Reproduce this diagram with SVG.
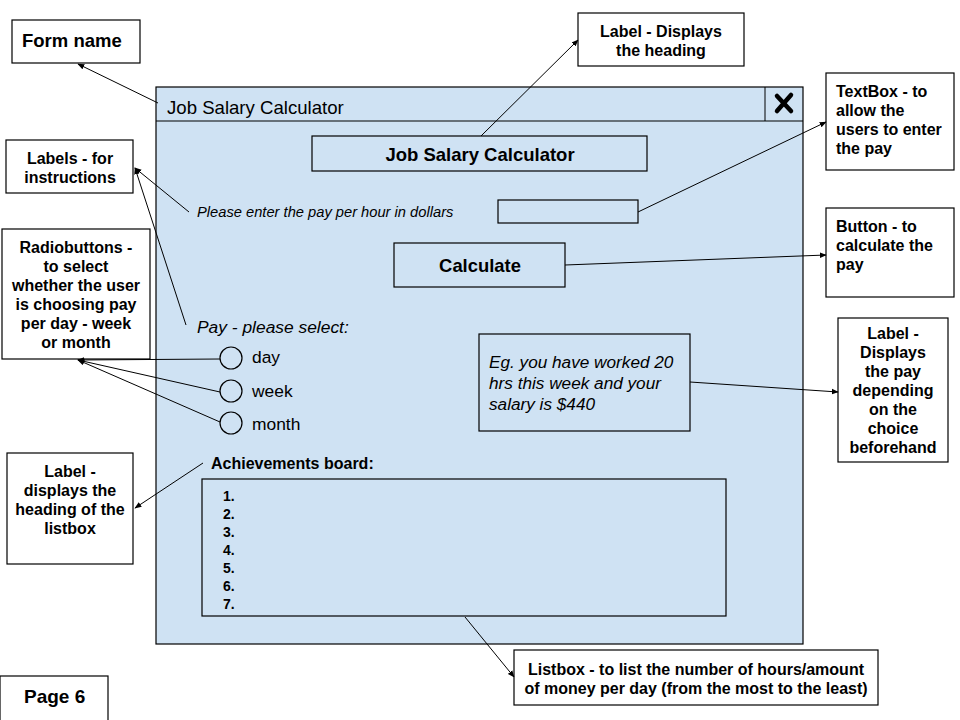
<svg xmlns="http://www.w3.org/2000/svg" width="960" height="720" viewBox="0 0 960 720">
<defs>
<style>
.box{fill:#fff;stroke:#000;stroke-width:1.2}
.win{fill:#cfe2f3;stroke:#000;stroke-width:1.2}
.t{font-family:"Liberation Sans",Arial,sans-serif;fill:#000}
.b{font-weight:bold;font-size:16px}
.c{text-anchor:middle}
.i{font-style:italic}
.con line{stroke:#000;stroke-width:1}
</style>
<marker id="ah" viewBox="0 0 10 10" refX="9" refY="5" markerWidth="7" markerHeight="7" orient="auto" markerUnits="userSpaceOnUse">
<path d="M0,1 L10,5 L0,9 z" fill="#000"/>
</marker>
</defs>
<rect width="960" height="720" fill="#fff"/>

<g id="window">
<rect class="win" x="156" y="87" width="647" height="557"/>
<line x1="156" y1="121" x2="803" y2="121" stroke="#000" stroke-width="1.2"/>
<line x1="765" y1="87" x2="765" y2="121" stroke="#000" stroke-width="1"/>
<path d="M777,96 L791,111 M791,95 L777,111" stroke="#000" stroke-width="4.5" stroke-linecap="round"/>
<text class="t" x="167" y="114" font-size="18.6">Job Salary Calculator</text>
</g>

<g id="heading">
<rect class="win" x="312" y="136" width="335" height="35"/>
<text class="t c" x="480" y="161" font-size="18.5" font-weight="bold">Job Salary Calculator</text>
</g>

<g id="instruction">
<text class="t i" x="197" y="217" font-size="14.7">Please enter the pay per hour in dollars</text>
</g>

<g id="textbox">
<rect class="win" x="498" y="200" width="140" height="23"/>
</g>

<g id="calculate">
<rect class="win" x="394" y="243" width="171" height="44"/>
<text class="t c" x="480" y="272" font-size="18.4" font-weight="bold">Calculate</text>
</g>

<g id="payselect">
<text class="t i" x="197" y="333" font-size="17.4">Pay - please select:</text>
</g>

<g id="radios">
<circle cx="231" cy="358" r="11" fill="none" stroke="#000" stroke-width="1.2"/>
<circle cx="231" cy="391" r="11" fill="none" stroke="#000" stroke-width="1.2"/>
<circle cx="231" cy="423" r="11" fill="none" stroke="#000" stroke-width="1.2"/>
<text class="t" x="252" y="363" font-size="17.4">day</text>
<text class="t" x="252" y="397" font-size="17.4">week</text>
<text class="t" x="252" y="430" font-size="17.4">month</text>
</g>

<g id="result">
<rect class="win" x="479" y="334" width="211" height="97"/>
<text class="t i" x="489" font-size="17.2"><tspan x="489" y="368">Eg. you have worked 20</tspan><tspan x="489" y="389">hrs this week and your</tspan><tspan x="489" y="410">salary is $440</tspan></text>
</g>

<g id="achlabel">
<text class="t" x="211" y="469" font-size="16" font-weight="bold">Achievements board:</text>
</g>

<g id="listbox">
<rect class="win" x="202" y="479" width="524" height="137"/>
<text class="t" font-size="14" font-weight="bold"><tspan x="223" y="501">1.</tspan><tspan x="223" y="519">2.</tspan><tspan x="223" y="537">3.</tspan><tspan x="223" y="555">4.</tspan><tspan x="223" y="573">5.</tspan><tspan x="223" y="591">6.</tspan><tspan x="223" y="609">7.</tspan></text>
</g>

<g id="n-formname">
<rect class="box" x="12" y="20" width="128" height="43"/>
<text class="t" x="22" y="47" font-size="18.5" font-weight="bold">Form name</text>
</g>

<g id="n-labelheading">
<rect class="box" x="578" y="13" width="166" height="53"/>
<text class="t b c"><tspan x="661" y="37">Label - Displays</tspan><tspan x="661" y="56">the heading</tspan></text>
</g>

<g id="n-textbox">
<rect class="box" x="826" y="73" width="128" height="97"/>
<text class="t b"><tspan x="836" y="97">TextBox - to</tspan><tspan x="836" y="116">allow the</tspan><tspan x="836" y="135">users to enter</tspan><tspan x="836" y="154">the pay</tspan></text>
</g>

<g id="n-button">
<rect class="box" x="826" y="208" width="128" height="89"/>
<text class="t b"><tspan x="836" y="232">Button - to</tspan><tspan x="836" y="251">calculate the</tspan><tspan x="836" y="270">pay</tspan></text>
</g>

<g id="n-labelpay">
<rect class="box" x="838" y="318" width="110" height="144"/>
<text class="t b c"><tspan x="893" y="339">Label -</tspan><tspan x="893" y="358">Displays</tspan><tspan x="893" y="377">the pay</tspan><tspan x="893" y="396">depending</tspan><tspan x="893" y="415">on the</tspan><tspan x="893" y="434">choice</tspan><tspan x="893" y="453">beforehand</tspan></text>
</g>

<g id="n-labels">
<rect class="box" x="6" y="140" width="127" height="53"/>
<text class="t b c"><tspan x="70" y="164">Labels - for</tspan><tspan x="70" y="183">instructions</tspan></text>
</g>

<g id="n-radio">
<rect class="box" x="2" y="229" width="148" height="130"/>
<text class="t b c"><tspan x="76" y="253">Radiobuttons -</tspan><tspan x="76" y="272">to select</tspan><tspan x="76" y="291">whether the user</tspan><tspan x="76" y="310">is choosing pay</tspan><tspan x="76" y="329">per day - week</tspan><tspan x="76" y="348">or month</tspan></text>
</g>

<g id="n-labellist">
<rect class="box" x="7" y="453" width="126" height="111"/>
<text class="t b c"><tspan x="70" y="477">Label -</tspan><tspan x="70" y="496">displays the</tspan><tspan x="70" y="515">heading of the</tspan><tspan x="70" y="534">listbox</tspan></text>
</g>

<g id="n-listbox">
<rect class="box" x="514" y="650" width="364" height="55"/>
<text class="t b c"><tspan x="696" y="675">Listbox - to list the number of hours/amount</tspan><tspan x="696" y="694">of money per day (from the most to the least)</tspan></text>
</g>

<g id="n-page">
<rect class="box" x="0" y="676" width="108" height="48"/>
<text class="t" x="24" y="703" font-size="19" font-weight="bold">Page 6</text>
</g>

<g id="connectors" class="con">
<line x1="158" y1="103" x2="78" y2="64" marker-end="url(#ah)"/>
<line x1="481" y1="136" x2="578" y2="40" marker-end="url(#ah)"/>
<line x1="638" y1="212" x2="826" y2="122" marker-end="url(#ah)"/>
<line x1="565" y1="265" x2="826" y2="255" marker-end="url(#ah)"/>
<line x1="690" y1="382" x2="838" y2="392" marker-end="url(#ah)"/>
<line x1="189" y1="212" x2="135" y2="168" marker-end="url(#ah)"/>
<line x1="186" y1="325" x2="135" y2="168" marker-end="url(#ah)"/>
<line x1="220" y1="359" x2="78" y2="360" marker-end="url(#ah)"/>
<line x1="220" y1="392" x2="78" y2="360" marker-end="url(#ah)"/>
<line x1="220" y1="422" x2="78" y2="360" marker-end="url(#ah)"/>
<line x1="203" y1="463" x2="135" y2="508" marker-end="url(#ah)"/>
<line x1="465" y1="617" x2="514" y2="677" marker-end="url(#ah)"/>
</g>
</svg>
